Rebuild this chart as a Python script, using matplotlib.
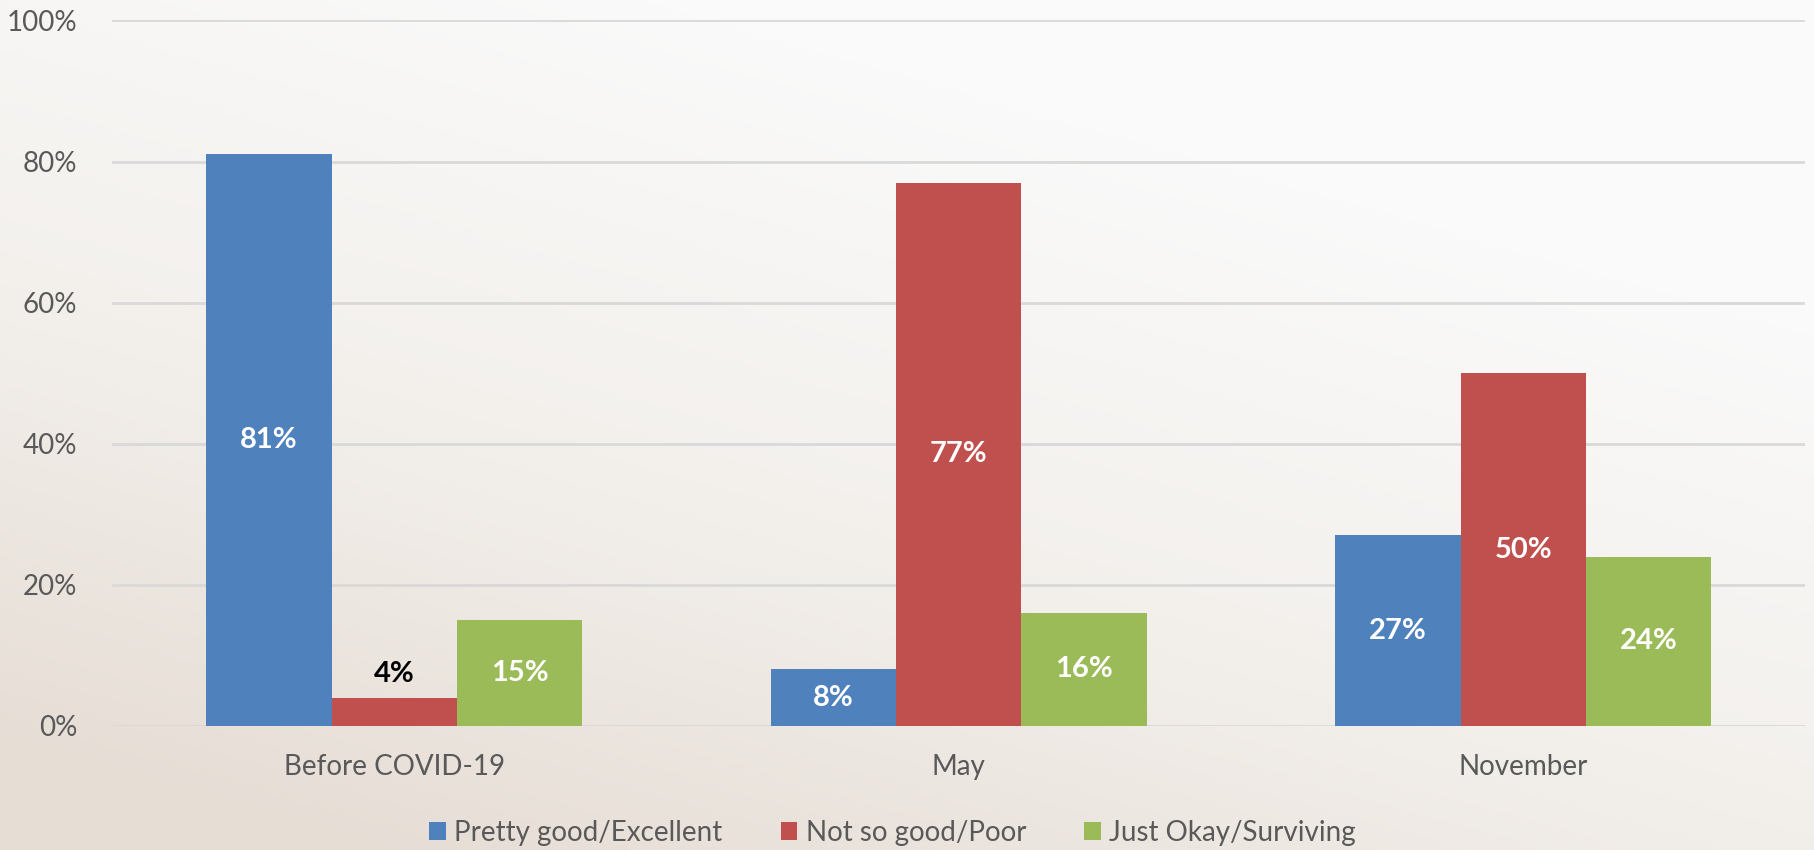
import numpy as np
import matplotlib
matplotlib.use('Agg')
import matplotlib.pyplot as plt
from matplotlib.colors import LinearSegmentedColormap

plt.rcParams['font.family'] = ['Lato', 'DejaVu Sans']

# datos
categorias = ['Before COVID-19', 'May', 'November']
series = ['Pretty good/Excellent', 'Not so good/Poor', 'Just Okay/Surviving']
pretty_good = [81, 8, 27]
not_so_good = [4, 77, 50]
just_okay = [15, 16, 24]
colores = ['#4F81BD', '#C0504D', '#9BBB59']
yticks = [0, 20, 40, 60, 80, 100]

fig = plt.figure(figsize=(18.14, 8.5), dpi=100)

# fondo degradado (blanco arriba a la derecha, beige abajo a la izquierda)
bg = fig.add_axes([0, 0, 1, 1], zorder=-10)
xx, yy = np.meshgrid(np.linspace(0, 1, 300), np.linspace(0, 1, 200))
t = np.clip(((1 - xx) * 0.55 + yy * 0.9) - 0.35, 0, 1)
cmap = LinearSegmentedColormap.from_list('fondo', ['#FAFAFA', '#F3F0EC', '#E6DDD5'])
bg.imshow(t, cmap=cmap, aspect='auto', extent=[0, 1, 0, 1], origin='upper')
bg.axis('off')

ax = fig.add_axes([0.0618, 0.146, 0.9335, 0.83])
ax.patch.set_alpha(0)

x = np.arange(len(categorias))
ancho = 0.222
valores = [pretty_good, not_so_good, just_okay]
for i, (vals, nombre, c) in enumerate(zip(valores, series, colores)):
    barras = ax.bar(x + (i - 1) * ancho, vals, ancho, color=c, label=nombre, zorder=3)
    for b, v in zip(barras, vals):
        cx = b.get_x() + b.get_width() / 2
        if v < 6:
            ax.text(cx, v + 1.5, f'{v}%', ha='center', va='bottom', color='black',
                    fontsize=21, fontweight='bold', zorder=4)
        else:
            ax.text(cx, v / 2, f'{v}%', ha='center', va='center', color='white',
                    fontsize=21, fontweight='bold', zorder=4)

ax.set_xlim(-0.5, 2.5)
ax.set_ylim(0, 100)
ax.set_yticks(yticks)
ax.set_yticklabels([f'{v}%' for v in yticks])
ax.set_xticks(x)
ax.set_xticklabels(categorias)
ax.tick_params(axis='y', length=0, pad=25, labelsize=20, labelcolor='#595959')
ax.tick_params(axis='x', length=0, pad=20, labelsize=20, labelcolor='#595959')
ax.grid(axis='y', color='#D9D9D9', linewidth=2, zorder=0)
for s in ax.spines.values():
    s.set_visible(False)

handles, labels = ax.get_legend_handles_labels()
fig.legend(handles, labels, loc='center', bbox_to_anchor=(0.492, 0.02), ncol=3,
           frameon=False, fontsize=20, handlelength=0.6, handleheight=0.6,
           handletextpad=0.3, columnspacing=2.1, labelcolor='#595959')

fig.savefig('out.png', dpi=100)
